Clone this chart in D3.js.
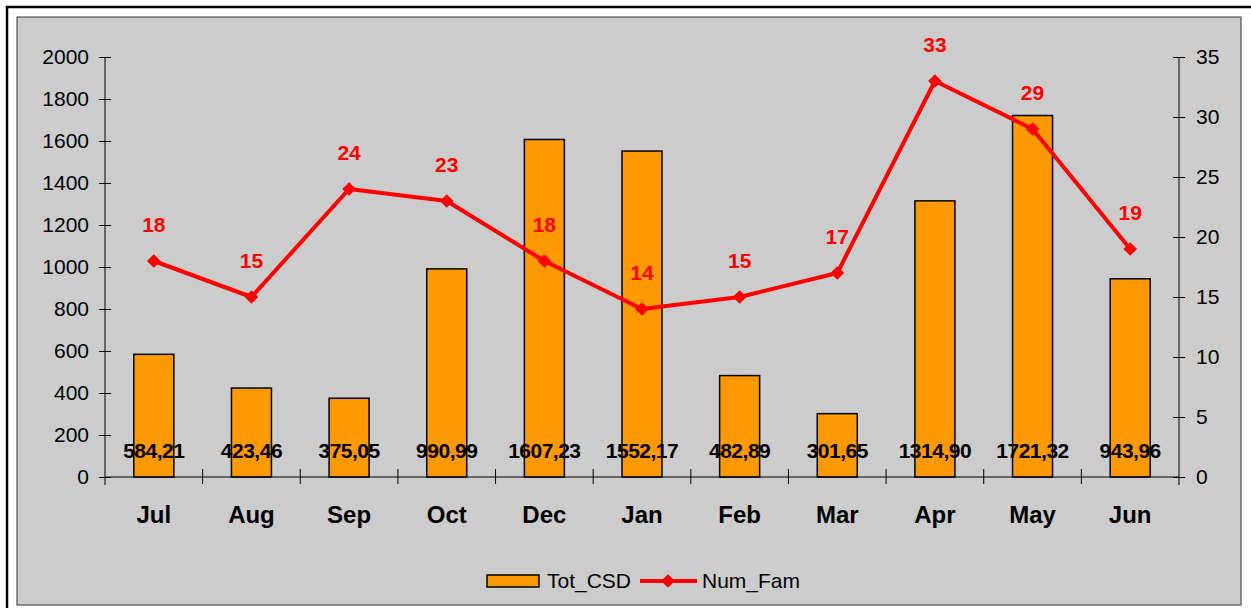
<!DOCTYPE html>
<html>
<head>
<meta charset="utf-8">
<script src="https://cdn.jsdelivr.net/npm/d3@7"></script>
<style>
  html, body { margin: 0; padding: 0; background: #fff; }
  svg { display: block; font-family: Arial, "Liberation Sans", sans-serif; }
</style>
</head>
<body>
<svg id="chart"></svg>
<script>
// Data
const months = ['Jul', 'Aug', 'Sep', 'Oct', 'Dec', 'Jan', 'Feb', 'Mar', 'Apr', 'May', 'Jun'];
const totCSD = [584.21, 423.46, 375.05, 990.99, 1607.23, 1552.17, 482.89, 301.65, 1314.90, 1721.32, 943.96];
const numFam = [18, 15, 24, 23, 18, 14, 15, 17, 33, 29, 19];
const leftTicks = [0, 200, 400, 600, 800, 1000, 1200, 1400, 1600, 1800, 2000];
const rightTicks = [0, 5, 10, 15, 20, 25, 30, 35];

const width = 1251, height = 608;
const svg = d3.select('#chart').attr('width', width).attr('height', height);

// outer frame
svg.append('rect')
  .attr('x', 7).attr('y', 7).attr('width', width).attr('height', height)
  .attr('fill', '#fff').attr('stroke', '#000').attr('stroke-width', 2.5);

// grey chart area
svg.append('rect')
  .attr('x', 17).attr('y', 17).attr('width', 1224).attr('height', 588)
  .attr('fill', '#cccccc').attr('stroke', '#333').attr('stroke-width', 1);

const plot = { left: 105, right: 1179, top: 57, bottom: 477 };

const x = d3.scaleBand().domain(months).range([plot.left, plot.right]);
const yL = d3.scaleLinear().domain([0, 2000]).range([plot.bottom, plot.top]);
const yR = d3.scaleLinear().domain([0, 35]).range([plot.bottom, plot.top]);

// bars
const barW = 40;
svg.append('g').selectAll('rect')
  .data(totCSD)
  .join('rect')
  .attr('x', (d, i) => x(months[i]) + x.bandwidth() / 2 - barW / 2)
  .attr('y', d => yL(d))
  .attr('width', barW)
  .attr('height', d => plot.bottom - yL(d))
  .attr('fill', '#ff9900')
  .attr('stroke', '#000')
  .attr('stroke-width', 1.5);

// left axis
const leftAxis = svg.append('g').attr('transform', `translate(${plot.left},0)`)
  .call(d3.axisLeft(yL).tickValues(leftTicks).tickFormat(d3.format('d')).tickSize(0).tickPadding(16));
leftAxis.select('.domain').remove();
leftAxis.selectAll('text').attr('font-size', 21).attr('fill', '#000')
  .attr('font-family', 'Arial, "Liberation Sans", sans-serif');
leftAxis.selectAll('.tick').append('line')
  .attr('x1', -6).attr('x2', 6).attr('stroke', '#000').attr('stroke-width', 1);
svg.append('line').attr('x1', plot.left).attr('x2', plot.left)
  .attr('y1', plot.top).attr('y2', plot.bottom + 8).attr('stroke', '#000');

// right axis
const rightAxis = svg.append('g').attr('transform', `translate(${plot.right},0)`)
  .call(d3.axisRight(yR).tickValues(rightTicks).tickFormat(d3.format('d')).tickSize(0).tickPadding(17));
rightAxis.select('.domain').remove();
rightAxis.selectAll('text').attr('font-size', 21).attr('fill', '#000')
  .attr('font-family', 'Arial, "Liberation Sans", sans-serif');
rightAxis.selectAll('.tick').append('line')
  .attr('x1', -6).attr('x2', 6).attr('stroke', '#000').attr('stroke-width', 1);
svg.append('line').attr('x1', plot.right).attr('x2', plot.right)
  .attr('y1', plot.top).attr('y2', plot.bottom + 8).attr('stroke', '#000');

// category axis
svg.append('line').attr('x1', plot.left).attr('x2', plot.right)
  .attr('y1', plot.bottom).attr('y2', plot.bottom).attr('stroke', '#000');
svg.append('g').selectAll('line')
  .data(months.slice(1))
  .join('line')
  .attr('x1', d => x(d)).attr('x2', d => x(d))
  .attr('y1', plot.bottom - 8).attr('y2', plot.bottom + 7)
  .attr('stroke', '#000');
svg.append('g').selectAll('text')
  .data(months)
  .join('text')
  .attr('x', d => x(d) + x.bandwidth() / 2)
  .attr('y', 523)
  .attr('text-anchor', 'middle')
  .attr('font-size', 24)
  .attr('font-weight', 'bold')
  .text(d => d);

// bar value labels
svg.append('g').selectAll('text')
  .data(totCSD)
  .join('text')
  .attr('x', (d, i) => x(months[i]) + x.bandwidth() / 2)
  .attr('y', 458)
  .attr('text-anchor', 'middle')
  .attr('font-size', 21)
  .attr('font-weight', 'bold')
  .attr('letter-spacing', -0.5)
  .text(d => d.toFixed(2).replace('.', ','));

// line
const line = d3.line()
  .x((d, i) => x(months[i]) + x.bandwidth() / 2)
  .y(d => yR(d));
svg.append('path')
  .datum(numFam)
  .attr('d', line)
  .attr('fill', 'none')
  .attr('stroke', '#ff0000')
  .attr('stroke-width', 4)
  .attr('stroke-linejoin', 'round');

const diamond = d3.symbol().type(d3.symbolDiamond2).size(120);
svg.append('g').selectAll('path')
  .data(numFam)
  .join('path')
  .attr('transform', (d, i) => `translate(${x(months[i]) + x.bandwidth() / 2},${yR(d)})`)
  .attr('d', diamond)
  .attr('fill', '#ff0000');

svg.append('g').selectAll('text')
  .data(numFam)
  .join('text')
  .attr('x', (d, i) => x(months[i]) + x.bandwidth() / 2)
  .attr('y', d => yR(d) - 29)
  .attr('text-anchor', 'middle')
  .attr('font-size', 21)
  .attr('font-weight', 'bold')
  .attr('fill', '#ff0000')
  .text(d => d);

// legend
const legend = svg.append('g');
legend.append('rect')
  .attr('x', 487).attr('y', 575).attr('width', 52).attr('height', 12)
  .attr('fill', '#ff9900').attr('stroke', '#000').attr('stroke-width', 1.5);
legend.append('text')
  .attr('x', 547).attr('y', 588).attr('font-size', 21).text('Tot_CSD');
legend.append('line')
  .attr('x1', 640).attr('x2', 697).attr('y1', 581).attr('y2', 581)
  .attr('stroke', '#ff0000').attr('stroke-width', 4);
legend.append('path')
  .attr('transform', 'translate(668,581)')
  .attr('d', diamond)
  .attr('fill', '#ff0000');
legend.append('text')
  .attr('x', 702).attr('y', 588).attr('font-size', 21).text('Num_Fam');
</script>
</body>
</html>
